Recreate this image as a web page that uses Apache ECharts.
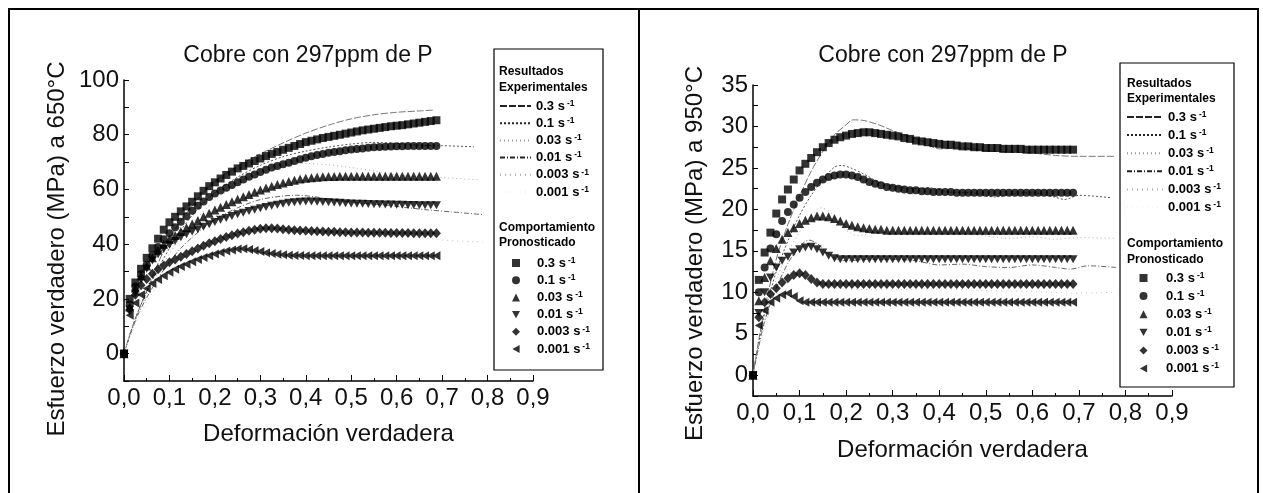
<!DOCTYPE html>
<html><head><meta charset="utf-8">
<script src="https://cdn.jsdelivr.net/npm/echarts@6/dist/echarts.min.js"></script>
<style>html,body{margin:0;padding:0;background:#fff}#c{width:1263px;height:493px}</style>
</head><body><div id="c"></div>
<script>
// ---------- data ----------
const strain = [0,0.0125,0.025,0.0375,0.05,0.0625,0.075,0.0875,0.1,0.1125,
0.125,0.1375,0.15,0.1625,0.175,0.1875,0.2,0.2125,0.225,0.2375,
0.25,0.2625,0.275,0.2875,0.3,0.3125,0.325,0.3375,0.35,0.3625,
0.375,0.3875,0.4,0.4125,0.425,0.4375,0.45,0.4625,0.475,0.4875,
0.5,0.5125,0.525,0.5375,0.55,0.5625,0.575,0.5875,0.6,0.6125,
0.625,0.6375,0.65,0.6625,0.675,0.6875];

const rates = ['0.3','0.1','0.03','0.01','0.003','0.001'];

// 650 °C predicted (markers)
const left650_03 = [0,20,26,31,35,38.5,42,45.3,48,50,
52,53.8,55.5,57.5,59.5,61.2,62.6,64,65.3,66.5,
67.7,68.6,69.5,70.4,71.3,72.2,73,73.7,74.5,75.2,
75.9,76.6,77.3,77.8,78.3,78.8,79.2,79.6,80,80.4,
80.8,81.2,81.6,81.9,82.2,82.5,82.8,83.1,83.3,83.5,
83.8,84.1,84.4,84.7,85,85.3];
const left650_01 = [0,18,24.5,29,32.5,36,39,41.8,44,46.2,
48.2,50.2,52.2,54,55.6,57.2,58.5,59.6,60.6,61.6,
62.6,63.6,64.6,65.5,66.4,67.2,68,68.6,69.2,69.8,
70.4,71,71.6,72.1,72.6,73,73.4,73.7,74,74.3,
74.6,74.8,75,75.2,75.4,75.5,75.6,75.7,75.8,75.8,
75.9,75.9,75.9,75.9,75.9,75.9];
const left650_003 = [0,17,24,28.5,32,35,37.8,40,41.8,43.2,
44.6,46,47.4,48.7,50,51.3,52.5,53.5,54.5,55.5,
56.4,57.3,58.2,59,59.8,60.5,61.2,61.8,62.4,62.9,
63.4,63.8,64.1,64.3,64.5,64.6,64.7,64.7,64.8,64.8,
64.8,64.8,64.8,64.8,64.8,64.8,64.8,64.8,64.8,64.8,
64.8,64.8,64.8,64.8,64.8,64.8];
const left650_001 = [0,16,22,27,31,34,36.3,38.2,39.8,41.2,
42.5,43.6,44.6,45.5,46.4,47.3,48.1,48.9,49.6,50.3,
50.9,51.5,52.1,52.6,53.1,53.6,54,54.4,54.8,55.1,
55.3,55.5,55.6,55.6,55.5,55.4,55.3,55.2,55.1,55,
54.9,54.8,54.8,54.7,54.6,54.6,54.5,54.5,54.4,54.4,
54.3,54.3,54.2,54.2,54.2,54.2];
const left650_0003 = [0,16,21.5,25,27.3,29.2,30.8,32.2,33.4,34.4,
35.4,36.4,37.4,38.4,39.4,40.3,41.1,41.9,42.6,43.3,
43.9,44.4,44.9,45.3,45.6,45.8,45.8,45.7,45.5,45.3,
45.1,45,44.9,44.8,44.7,44.6,44.5,44.5,44.4,44.4,
44.3,44.3,44.3,44.2,44.2,44.2,44.2,44.1,44.1,44.1,
44.1,44,44,44,44,44];
const left650_0001 = [0,14,18.5,21.5,23.8,25.6,27.1,28.5,29.7,30.8,
31.8,32.7,33.6,34.4,35.1,35.8,36.4,37,37.5,37.9,
38.2,38.3,38.1,37.7,37.3,36.9,36.6,36.3,36.1,36,
35.9,35.9,35.8,35.8,35.8,35.8,35.8,35.8,35.8,35.8,
35.8,35.8,35.8,35.8,35.8,35.8,35.8,35.8,35.8,35.8,
35.8,35.8,35.8,35.8,35.8,35.8];

// 650 °C experimental (lines) [strain, stress]
const exp650_03 = [[0,0],[0.015,8],[0.03,15],[0.05,23],[0.075,33],[0.1,42],[0.125,48.5],[0.15,54],[0.175,58.8],[0.2,63],[0.25,68.5],[0.3,73],[0.35,77],[0.4,80.6],[0.45,83.5],[0.5,85.8],[0.55,87.3],[0.6,88.2],[0.65,88.7],[0.68,89]];
const exp650_01 = [[0,0],[0.015,8],[0.03,15],[0.05,22.5],[0.075,31],[0.1,38.5],[0.125,45],[0.15,50.5],[0.175,55],[0.2,58.8],[0.25,64.5],[0.3,68.8],[0.35,72],[0.4,74],[0.45,75.5],[0.5,76.6],[0.55,77.2],[0.6,76.8],[0.65,76.2],[0.7,76],[0.77,75.6]];
const exp650_003 = [[0,0],[0.015,8],[0.03,14.5],[0.05,21.5],[0.075,29.5],[0.1,36.5],[0.125,42.5],[0.15,47.5],[0.175,52],[0.2,56],[0.25,62],[0.3,66.3],[0.35,68.6],[0.4,69.5],[0.45,69],[0.5,68],[0.55,66.8],[0.6,65.3],[0.65,64.6],[0.7,64.3],[0.78,63.5]];
const exp650_001 = [[0,0],[0.015,7.5],[0.03,14],[0.05,20.5],[0.075,27.5],[0.1,33.5],[0.125,38.5],[0.15,42.5],[0.175,46],[0.2,49],[0.25,53.3],[0.3,56.3],[0.35,57.6],[0.38,57.9],[0.42,57.3],[0.47,56],[0.52,55],[0.57,54.4],[0.62,53.4],[0.67,52.5],[0.72,51.8],[0.79,50.8]];
const exp650_0003 = [[0,0],[0.015,7],[0.03,13],[0.05,19],[0.075,25],[0.1,30],[0.125,34],[0.15,37],[0.2,41.5],[0.25,44.3],[0.3,45.8],[0.35,46],[0.4,45.5],[0.45,45],[0.5,44.8],[0.55,44.6],[0.6,43.8],[0.65,42.5],[0.7,41.5],[0.79,40.8]];
const exp650_0001 = [[0,0],[0.015,7],[0.03,12.5],[0.05,18],[0.075,23],[0.1,27],[0.15,32],[0.2,35.5],[0.25,37.5],[0.3,37.5],[0.35,36.5],[0.4,36],[0.5,35.8],[0.6,35.6],[0.69,35.5]];

// 950 °C predicted (markers)
const right950_03 = [0,11.5,14.8,17.2,19.5,21.2,22.4,23.6,24.7,25.5,
26.2,26.9,27.5,28,28.4,28.7,28.9,29.1,29.2,29.3,
29.3,29.2,29.1,29,28.9,28.8,28.6,28.5,28.3,28.2,
28.1,28,27.9,27.8,27.8,27.7,27.6,27.6,27.5,27.5,
27.4,27.4,27.4,27.3,27.3,27.3,27.3,27.2,27.2,27.2,
27.2,27.2,27.2,27.2,27.2,27.2];
const right950_01 = [0,10,13,15.3,17,18.6,19.7,20.6,21.4,22.1,
22.7,23.2,23.6,23.9,24.1,24.2,24.2,24.1,23.9,23.6,
23.3,23.1,22.9,22.7,22.6,22.5,22.4,22.3,22.3,22.2,
22.2,22.1,22.1,22.1,22.1,22,22,22,22,22,
22,22,22,22,22,22,22,22,22,22,
22,22,22,22,22,22];
const right950_003 = [0,9,11.8,13.8,15.3,16.4,17.2,17.8,18.3,18.7,
19,19.2,19.2,19.1,18.9,18.6,18.3,18.1,17.9,17.8,
17.7,17.6,17.6,17.5,17.5,17.5,17.5,17.5,17.5,17.5,
17.5,17.5,17.5,17.5,17.5,17.5,17.5,17.5,17.5,17.5,
17.5,17.5,17.5,17.5,17.5,17.5,17.5,17.5,17.5,17.5,
17.5,17.5,17.5,17.5,17.5,17.5];
const right950_001 = [0,7.5,10,11.8,13,13.8,14.3,14.8,15.2,15.4,
15.5,15.2,14.8,14.4,14.1,14,14,14,14,14,
14,14,14,14,14,14,14,14,14,14,
14,14,14,14,14,14,14,14,14,14,
14,14,14,14,14,14,14,14,14,14,
14,14,14,14,14,14];
const right950_0003 = [0,7,8.8,9.8,10.5,11.2,11.7,12.1,12.3,12.1,
11.6,11.2,11,11,11,11,11,11,11,11,
11,11,11,11,11,11,11,11,11,11,
11,11,11,11,11,11,11,11,11,11,
11,11,11,11,11,11,11,11,11,11,
11,11,11,11,11,11];
const right950_0001 = [0,6,7.8,8.8,9.3,9.7,9.9,9.5,9,8.8,
8.8,8.8,8.8,8.8,8.8,8.8,8.8,8.8,8.8,8.8,
8.8,8.8,8.8,8.8,8.8,8.8,8.8,8.8,8.8,8.8,
8.8,8.8,8.8,8.8,8.8,8.8,8.8,8.8,8.8,8.8,
8.8,8.8,8.8,8.8,8.8,8.8,8.8,8.8,8.8,8.8,
8.8,8.8,8.8,8.8,8.8,8.8];

// 950 °C experimental (lines)
const exp950_03 = [[0,0],[0.01,3.5],[0.025,8],[0.05,14],[0.075,18.2],[0.1,21.6],[0.125,24.6],[0.15,27],[0.175,29],[0.2,30.2],[0.215,30.8],[0.24,30.7],[0.27,30.2],[0.3,29.5],[0.33,28.9],[0.36,28.3],[0.4,27.3],[0.45,27.4],[0.5,27.1],[0.55,26.9],[0.6,26.8],[0.65,26.5],[0.7,26.4],[0.78,26.4]];
const exp950_01 = [[0,0],[0.01,3.2],[0.025,7.5],[0.05,12.5],[0.075,16.2],[0.1,19.3],[0.125,21.7],[0.15,23.6],[0.175,25.1],[0.19,25.3],[0.21,25],[0.24,24.2],[0.27,23.3],[0.3,22.8],[0.35,22.5],[0.38,22.6],[0.42,22.1],[0.47,22],[0.52,21.5],[0.56,21.9],[0.6,22],[0.64,21.6],[0.67,21.2],[0.7,21.7],[0.77,21.4]];
const exp950_003 = [[0,0],[0.01,3],[0.025,7],[0.05,11.5],[0.075,14.8],[0.1,17.3],[0.125,19.2],[0.145,20.2],[0.165,19.7],[0.19,18],[0.21,17.1],[0.225,16.8],[0.25,17.1],[0.3,17.3],[0.35,17.2],[0.4,17.3],[0.45,17.1],[0.5,16.8],[0.55,16.5],[0.6,16.7],[0.65,16.4],[0.7,16.6],[0.78,16.5]];
const exp950_001 = [[0,0],[0.01,2.8],[0.025,6.5],[0.05,10.5],[0.075,13.5],[0.1,15.5],[0.12,16.3],[0.14,15.8],[0.16,14.7],[0.18,14],[0.2,13.8],[0.25,14],[0.3,14],[0.35,13.8],[0.4,13.3],[0.45,13.4],[0.5,13.1],[0.55,13],[0.6,13.3],[0.65,13],[0.68,12.8],[0.72,13.2],[0.78,13]];
const exp950_0003 = [[0,0],[0.01,2.6],[0.025,6],[0.05,9.5],[0.075,12],[0.097,13.1],[0.12,12.3],[0.14,11.2],[0.17,10.6],[0.2,10.4],[0.3,10.3],[0.4,10.4],[0.5,10.2],[0.6,10.1],[0.7,9.9],[0.78,10]];
const exp950_0001 = [[0,0],[0.01,2.4],[0.025,5.5],[0.05,8.5],[0.07,9.8],[0.09,9.6],[0.12,9.2],[0.2,9.3],[0.3,9.5],[0.4,9.6],[0.5,9.7],[0.6,9.6],[0.7,9.7]];

const titleText = 'Cobre con 297ppm de P';
const xTitle = 'Deformación verdadera';
const yTitleLeft = 'Esfuerzo verdadero (MPa) a 650°C';
const yTitleRight = 'Esfuerzo verdadero (MPa) a 950°C';

// ---------- styles ----------
const FONT = '"Liberation Sans", Arial, sans-serif';
const expStyles = [
  {color:'#777', type:[7,2], legend:'#222'},
  {color:'#555', type:[2,2], legend:'#222'},
  {color:'#b0b0b0', type:[1,3], legend:'#999'},
  {color:'#666', type:[5,2,1,2], legend:'#222'},
  {color:'#c4c4c4', type:[1,4], legend:'#aaa'},
  {color:'#eeeeee', type:[1,4], legend:'#f4f4f4'}
];
const markers = [
  {symbol:'rect', size:8},
  {symbol:'circle', size:8},
  {symbol:'triangle', size:9},
  {symbol:'path://M0,0L10,0L5,9Z', size:[9,8]},
  {symbol:'diamond', size:[9,10]},
  {symbol:'path://M9,0L9,10L0,5Z', size:[8,9]}
];

const sides = [
  {exp:[exp650_03,exp650_01,exp650_003,exp650_001,exp650_0003,exp650_0001],
   pred:[left650_03,left650_01,left650_003,left650_001,left650_0003,left650_0001]},
  {exp:[exp950_03,exp950_01,exp950_003,exp950_001,exp950_0003,exp950_0001],
   pred:[right950_03,right950_01,right950_003,right950_001,right950_0003,right950_0001]}
];

const series = [];
const expNames = [[],[]], predNames = [[],[]];
sides.forEach((s, k) => {
  s.exp.forEach((d, i) => {
    const nm = k + '|E|' + i;
    expNames[k].push({name:nm, lineStyle:{color:expStyles[i].legend}});
    series.push({type:'line', name:nm, xAxisIndex:k, yAxisIndex:k, data:d,
      symbol:'none', smooth:0.3, z:2,
      lineStyle:{width:1, color:expStyles[i].color, type:expStyles[i].type},
      itemStyle:{color:expStyles[i].color}});
  });
  s.pred.forEach((d, i) => {
    const nm = k + '|P|' + i;
    predNames[k].push(nm);
    series.push({type:'scatter', name:nm, xAxisIndex:k, yAxisIndex:k,
      data: strain.map((x, j) => [x, d[j]]),
      symbol:markers[i].symbol, symbolSize:markers[i].size, z:3,
      itemStyle:{color:'#000'}});
  });
});

function legendText(padLeft) {
  return {
    fontSize:13, fontWeight:'bold', fontFamily:FONT, color:'#000', padding:[0,0,0,padLeft],
    rich:{
      t:{fontSize:13, fontWeight:'bold', fontFamily:FONT, color:'#000', lineHeight:14},
      s:{fontSize:8.5, fontWeight:'bold', fontFamily:FONT, color:'#000', lineHeight:8, verticalAlign:'top', padding:[0,0,0,2]}
    }
  };
}
const fmt = n => '{t|' + rates[+n.split('|')[2]] + ' s}{s|-1}';
function mkLegend(data, left, top, gap, w, h, padLeft, hideSymbol) {
  const l = {data, left, top, orient:'vertical', itemGap:gap, itemWidth:w, itemHeight:h,
    padding:0, selectedMode:false, formatter:fmt, textStyle:legendText(padLeft), z:5};
  if (hideSymbol) l.itemStyle = {opacity:0, color:'rgba(0,0,0,0)', borderWidth:0};
  return l;
}

function yAxis(k) {
  const left = k === 0;
  return {type:'value', gridIndex:k,
    min: left ? -10 : -2.5, max: left ? 100 : 35, interval: left ? 10 : 2.5,
    name: left ? yTitleLeft : yTitleRight, nameLocation:'middle', nameGap: left ? 55 : 46,
    nameTextStyle:{fontSize:24, fontFamily:FONT, color:'#111', padding: left ? [0,37,0,0] : [0,26,0,0]},
    axisLine:{show:true, lineStyle:{color:'#000', width:1.5}},
    axisTick:{show:true, inside:true, length:5, lineStyle:{color:'#000'}},
    splitLine:{show:false},
    axisLabel:{fontSize:24, fontFamily:FONT, color:'#111', margin:5,
      formatter: v => {
        const step = left ? 20 : 5;
        return (v >= 0 && Math.abs(v / step - Math.round(v / step)) < 1e-6) ? String(Math.round(v)) : '';
      }}
  };
}
function xAxis(k) {
  return {type:'value', gridIndex:k, min:0, max:0.9, interval:0.1,
    name:xTitle, nameLocation:'middle', nameGap: k === 0 ? 41 : 42,
    nameTextStyle:{fontSize:24, fontFamily:FONT, color:'#111'},
    axisLine:{show:true, onZero:false, lineStyle:{color:'#000', width:1.5}},
    axisTick:{show:true, inside:true, length:6, lineStyle:{color:'#000'}},
    minorTick:{show:true, splitNumber:2, length:3, lineStyle:{color:'#000'}},
    splitLine:{show:false},
    axisLabel:{fontSize:24, fontFamily:FONT, color:'#111', margin:5,
      formatter: v => v.toFixed(1).replace('.', ',')}
  };
}

const header = (text, x, y) => ({type:'text', z:10, style:{text, x, y,
  font:'bold 12px ' + FONT, fill:'#000', verticalAlign:'middle', align:'left'}});

const option = {
  animation:false,
  backgroundColor:'#fff',
  title:[
    {text:titleText, left:308, top:44, textAlign:'center', padding:0,
     textStyle:{fontSize:23, fontWeight:'normal', fontFamily:FONT, color:'#111', lineHeight:23}},
    {text:titleText, left:943, top:44, textAlign:'center', padding:0,
     textStyle:{fontSize:23, fontWeight:'normal', fontFamily:FONT, color:'#111', lineHeight:23}}
  ],
  grid:[
    {left:124, top:80, width:409, height:301},
    {left:753, top:85, width:419, height:311}
  ],
  xAxis:[xAxis(0), xAxis(1)],
  yAxis:[yAxis(0), yAxis(1)],
  legend:[
    mkLegend(expNames[0], 499, 99, 3.7, 31, 12, 0, true),
    mkLegend(predNames[0], 512, 256, 3.7, 8, 8, 12, false),
    mkLegend(expNames[1], 1126, 110, 4.6, 36, 12, 0, true),
    mkLegend(predNames[1], 1139.5, 271, 4.6, 8, 8, 13.5, false)
  ],
  graphic:{elements:[
    {type:'rect', z:0, shape:{x:9, y:9, width:1249, height:520}, style:{fill:'none', stroke:'#000', lineWidth:2}},
    {type:'line', z:0, shape:{x1:639, y1:9, x2:639, y2:520}, style:{stroke:'#000', lineWidth:2}},
    {type:'rect', z:1, shape:{x:494, y:49, width:109, height:321}, style:{fill:'#fff', stroke:'#000', lineWidth:1.2}},
    {type:'rect', z:1, shape:{x:1120, y:63, width:114, height:324}, style:{fill:'#fff', stroke:'#000', lineWidth:1.2}},
    header('Resultados', 499, 72), header('Experimentales', 499, 87.5),
    header('Comportamiento', 499, 228), header('Pronosticado', 499, 243),
    header('Resultados', 1127, 83.5), header('Experimentales', 1127, 99),
    header('Comportamiento', 1127, 243.5), header('Pronosticado', 1127, 259.5)
  ]},
  series
};
echarts.init(document.getElementById('c'), null, {renderer:'canvas'}).setOption(option);
</script>
</body></html>
